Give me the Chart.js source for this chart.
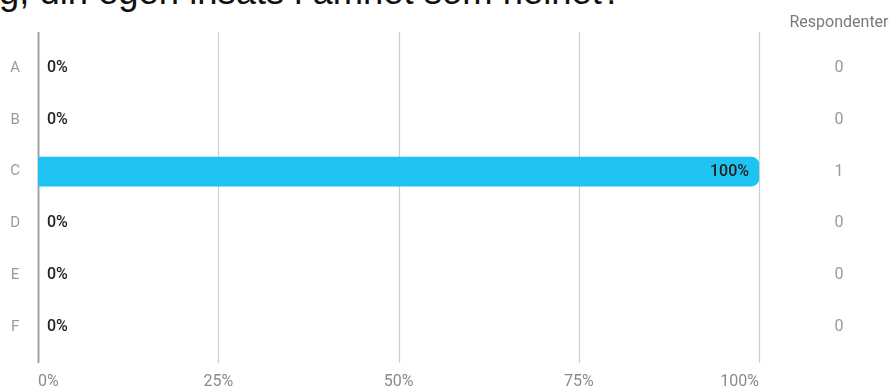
<!DOCTYPE html>
<html>
<head>
<meta charset="utf-8">
<script src="https://cdn.jsdelivr.net/npm/chart.js@4.4.1/dist/chart.umd.min.js"></script>
<style>
  html, body { margin: 0; padding: 0; background: #fff; overflow: hidden; }
  #wrap { position: relative; width: 894px; height: 389px; }
  #title { position: absolute; left: -1px; top: -25px; font-family: "Liberation Sans", Arial, sans-serif; font-size: 36.4px; line-height: 34px; color: #111; white-space: nowrap; }
  canvas { position: absolute; left: 0; top: 0; }
</style>
</head>
<body>
<div id="wrap">
  <div id="title">g, din egen insats i ämnet som helhet?</div>
  <canvas id="c" width="894" height="389"></canvas>
</div>
<script>
const categories = ['A', 'B', 'C', 'D', 'E', 'F'];
const percentValues = [0, 0, 100, 0, 0, 0];
const respondentCounts = [0, 0, 1, 0, 0, 0];
const xTickValues = [0, 25, 50, 75, 100];
const countHeader = 'Respondenter';

const gridPlugin = {
  id: 'gridExt',
  beforeDatasetsDraw(chart) {
    const { ctx, chartArea, scales } = chart;
    const xs = scales.x;
    ctx.save();
    xs.ticks.forEach(t => {
      const x = Math.round(xs.getPixelForValue(t.value)) + 0.5;
      ctx.beginPath();
      ctx.strokeStyle = t.value === 0 ? '#9a9a9a' : '#cfcfcf';
      ctx.lineWidth = t.value === 0 ? 1.8 : 1.2;
      ctx.moveTo(x, chartArea.top - 10);
      ctx.lineTo(x, chartArea.bottom + 10);
      ctx.stroke();
    });
    ctx.restore();
  },
  afterDatasetsDraw(chart) {
    const { ctx, scales } = chart;
    const meta = chart.getDatasetMeta(0);
    ctx.save();
    ctx.font = '500 16px Roboto, "Noto Sans", sans-serif';
    ctx.fillStyle = '#222';
    ctx.textBaseline = 'middle';
    meta.data.forEach((bar, i) => {
      const v = percentValues[i];
      const label = v + '%';
      if (v >= 15) {
        ctx.textAlign = 'right';
        ctx.fillText(label, bar.x - 10, bar.y);
      } else {
        ctx.textAlign = 'left';
        ctx.fillText(label, scales.x.getPixelForValue(0) + 9, bar.y);
      }
    });
    const cx = 839;
    ctx.font = '16px Roboto, "Noto Sans", sans-serif';
    ctx.textAlign = 'center';
    ctx.fillStyle = '#7a7a7a';
    ctx.fillText(countHeader, cx, 23);
    ctx.fillStyle = '#9a9a9a';
    categories.forEach((c, i) => {
      ctx.fillText(String(respondentCounts[i]), cx, scales.y.getPixelForValue(i));
    });
    ctx.restore();
  }
};

new Chart(document.getElementById('c'), {
  type: 'bar',
  data: {
    labels: categories,
    datasets: [{
      data: percentValues,
      backgroundColor: ctx => (percentValues[ctx.dataIndex] > 0 ? '#1fc3f1' : 'rgba(0,0,0,0)'),
      barThickness: 29,
      borderRadius: { topRight: 8, bottomRight: 8, topLeft: 0, bottomLeft: 0 },
      borderSkipped: false
    }]
  },
  options: {
    indexAxis: 'y',
    responsive: false,
    animation: false,
    devicePixelRatio: 1,
    layout: { padding: { top: 42, right: 135, bottom: 0, left: 0 } },
    plugins: { legend: { display: false }, tooltip: { enabled: false } },
    scales: {
      x: {
        min: 0, max: 100,
        afterBuildTicks(scale) { scale.ticks = xTickValues.map(v => ({ value: v })); },
        afterFit(scale) { scale.height = 36; },
        grid: { display: false, drawTicks: false },
        border: { display: false },
        ticks: {
          align: 'inner',
          maxRotation: 0,
          padding: 19,
          color: '#8a8a8a',
          font: { family: 'Roboto', size: 16 },
          callback: v => v + '%'
        }
      },
      y: {
        afterFit(scale) { scale.width = 38; },
        grid: { display: false, drawTicks: false },
        border: { display: false },
        ticks: {
          crossAlign: 'center',
          padding: 18,
          color: '#9a9a9a',
          font: { family: 'Roboto', size: 15 }
        }
      }
    }
  },
  plugins: [gridPlugin]
});
</script>
</body>
</html>
